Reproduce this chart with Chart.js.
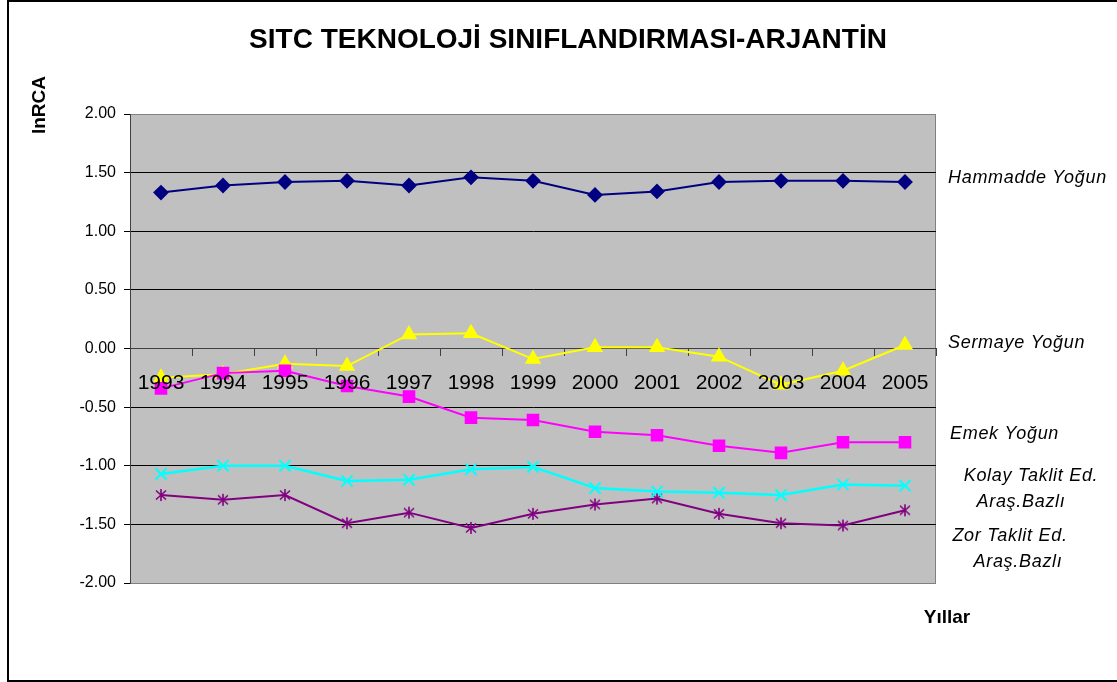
<!DOCTYPE html>
<html>
<head>
<meta charset="utf-8">
<script src="https://cdn.jsdelivr.net/npm/chart.js@4"></script>
<style>
  body { margin: 0; background: #fff; }
  #wrap { width: 1117px; height: 682px; position: relative; }
</style>
</head>
<body>
<div id="wrap"><canvas id="rcaChart"></canvas></div>
<script>
// yıllar ve seriler
const years = ["1993", "1994", "1995", "1996", "1997", "1998", "1999", "2000", "2001", "2002", "2003", "2004", "2005"];
const hammadde = [1.33, 1.39, 1.42, 1.43, 1.39, 1.46, 1.43, 1.31, 1.34, 1.42, 1.43, 1.43, 1.42];
const sermaye = [-0.25, -0.22, -0.13, -0.15, 0.12, 0.13, -0.09, 0.01, 0.01, -0.07, -0.31, -0.19, 0.03];
const emek = [-0.34, -0.21, -0.19, -0.32, -0.41, -0.59, -0.61, -0.71, -0.74, -0.83, -0.89, -0.80, -0.80];
const kolay = [-1.07, -1.00, -1.00, -1.13, -1.12, -1.03, -1.01, -1.19, -1.22, -1.23, -1.25, -1.16, -1.17];
const zor = [-1.25, -1.29, -1.25, -1.49, -1.40, -1.53, -1.41, -1.33, -1.28, -1.41, -1.49, -1.51, -1.38];
const yTicks = [-2, -1.5, -1, -0.5, 0, 0.5, 1, 1.5, 2];

const FONT = "'Liberation Sans', Arial, sans-serif";

// Excel tarzı yıldız işareti (X + dikey çizgi)
function starMarker(color) {
  const c = document.createElement("canvas");
  c.width = c.height = 14;
  const g = c.getContext("2d");
  g.strokeStyle = color;
  g.lineWidth = 1.6;
  g.beginPath();
  g.moveTo(7, 1); g.lineTo(7, 13);
  g.moveTo(2, 2.5); g.lineTo(12, 11.5);
  g.moveTo(12, 2.5); g.lineTo(2, 11.5);
  g.stroke();
  return c;
}

const frame = {
  id: "frame",
  beforeDraw(chart) {
    const { ctx, chartArea: a } = chart;
    ctx.save();
    ctx.fillStyle = "#c0c0c0";
    ctx.fillRect(a.left, a.top, a.right - a.left, a.bottom - a.top);
    ctx.strokeStyle = "#808080";
    ctx.lineWidth = 1;
    ctx.strokeRect(a.left + 0.5, a.top + 0.5, a.right - a.left - 1, a.bottom - a.top);
    ctx.strokeStyle = "#000";
    ctx.lineWidth = 2;
    ctx.strokeRect(8, 1, 1110, 680);
    ctx.restore();
  },
  afterDraw(chart) {
    const ctx = chart.ctx;
    ctx.save();
    ctx.fillStyle = "#000";
    ctx.textBaseline = "middle";
    ctx.textAlign = "center";
    ctx.font = "bold 28px " + FONT;
    ctx.fillText("SITC TEKNOLOJİ SINIFLANDIRMASI-ARJANTİN", 568, 40);
    ctx.font = "bold 19px " + FONT;
    ctx.fillText("Yıllar", 947, 618);
    ctx.save();
    ctx.translate(40, 105);
    ctx.rotate(-Math.PI / 2);
    ctx.fillText("lnRCA", 0, 0);
    ctx.restore();
    ctx.font = "italic 18px " + FONT;
    ctx.letterSpacing = "0.7px";
    ctx.textAlign = "left";
    ctx.fillText("Hammadde Yoğun", 948, 178);
    ctx.fillText("Sermaye Yoğun", 948, 343);
    ctx.fillText("Emek Yoğun", 950, 434);
    ctx.textAlign = "center";
    ctx.fillText("Kolay Taklit Ed.", 1031, 476);
    ctx.fillText("Araş.Bazlı", 1021, 502);
    ctx.fillText("Zor Taklit Ed.", 1010, 536);
    ctx.fillText("Araş.Bazlı", 1018, 562);
    ctx.restore();
  }
};

const ctx = document.getElementById("rcaChart").getContext("2d");
new Chart(ctx, {
  type: "line",
  data: {
    labels: years,
    datasets: [
      { label: "Hammadde Yoğun", data: hammadde, borderColor: "#000080", backgroundColor: "#000080",
        pointStyle: "rectRot", pointRadius: 6.5, borderWidth: 2 },
      { label: "Emek Yoğun", data: emek, borderColor: "#ff00ff", backgroundColor: "#ff00ff",
        pointStyle: "rect", pointRadius: 7.5, borderWidth: 2 },
      { label: "Sermaye Yoğun", data: sermaye, borderColor: "#ffff00", backgroundColor: "#ffff00",
        pointStyle: "triangle", pointRadius: 7.5, borderWidth: 2 },
      { label: "Kolay Taklit Ed. Araş.Bazlı", data: kolay, borderColor: "#00ffff", backgroundColor: "#00ffff",
        pointStyle: "crossRot", pointRadius: 8, pointBorderWidth: 2, borderWidth: 2.5 },
      { label: "Zor Taklit Ed. Araş.Bazlı", data: zor, borderColor: "#800080", backgroundColor: "#800080",
        pointStyle: starMarker("#800080"), borderWidth: 2 }
    ]
  },
  options: {
    responsive: true,
    maintainAspectRatio: false,
    animation: false,
    events: [],
    layout: { padding: { top: 114, bottom: 99, left: 70, right: 181 } },
    plugins: { legend: { display: false }, tooltip: { enabled: false }, title: { display: false } },
    elements: { line: { tension: 0 } },
    scales: {
      x: {
        type: "category",
        position: { y: 0 },
        offset: true,
        grid: { offset: true, drawOnChartArea: false, drawTicks: true, tickLength: 7, color: "#404040" },
        border: { color: "#404040", width: 1 },
        ticks: { z: 1, color: "#000", font: { family: FONT, size: 21 }, padding: 15, maxRotation: 0, autoSkip: false }
      },
      y: {
        min: -2,
        max: 2,
        afterFit(scale) { scale.width = 60; },
        afterBuildTicks(scale) { scale.ticks = yTicks.map(v => ({ value: v })); },
        grid: {
          color: c => (c.tick && (c.tick.value === 2 || c.tick.value === -2)) ? "#808080" : "#000",
          tickColor: "#000",
          tickLength: 6
        },
        border: { color: "#404040", width: 1 },
        ticks: {
          color: "#000",
          font: { family: FONT, size: 16 },
          padding: 8,
          callback: v => Number(v).toFixed(2)
        }
      }
    }
  },
  plugins: [frame]
});
</script>
</body>
</html>
